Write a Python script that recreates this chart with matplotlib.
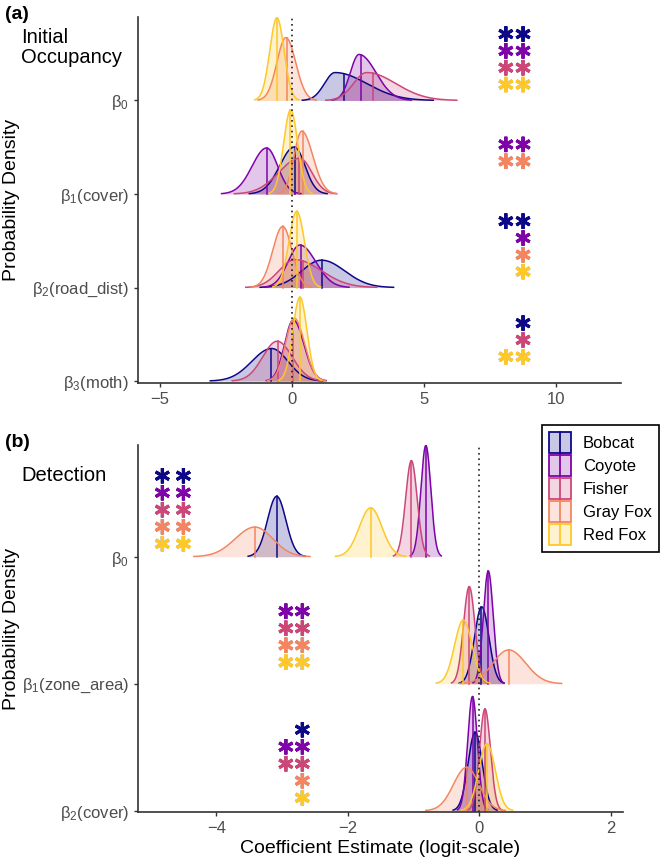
import numpy as np
import matplotlib
matplotlib.use('Agg')
import matplotlib.pyplot as plt
from matplotlib.patches import Patch, Rectangle
from matplotlib.lines import Line2D
from matplotlib.legend_handler import HandlerBase
from matplotlib.colors import to_rgba
import matplotlib.patheffects as pe

plt.rcParams['font.family'] = ['Liberation Sans', 'DejaVu Sans']
plt.rcParams['mathtext.fontset'] = 'custom'
plt.rcParams['mathtext.rm'] = 'Liberation Sans'

### Data ###
species = ['Bobcat', 'Coyote', 'Fisher', 'Gray Fox', 'Red Fox']
colors = ['#0D0887', '#7E03A8', '#CC4678', '#F48560', '#FDC828']

# (a) initial occupancy: rows = parameters, cols = species
occ_params = [r'β$\mathregular{_0}$', r'β$\mathregular{_1}$(cover)',
              r'β$\mathregular{_2}$(road_dist)', r'β$\mathregular{_3}$(moth)']
occ_mode = [[1.63, 2.54, 2.83, -0.23, -0.57],
            [0.09, -0.96, 0.30, 0.37, -0.05],
            [1.12, 0.30, 0.11, -0.35, 0.18],
            [-0.77, 0.05, -0.56, 0.09, 0.30]]
occ_sd_left = [[0.40, 0.33, 0.50, 0.34, 0.27],
               [0.55, 0.55, 0.80, 0.29, 0.265],
               [0.75, 0.45, 0.60, 0.38, 0.293],
               [0.75, 0.33, 0.55, 0.33, 0.266]]
occ_sd_right = [[1.20, 0.64, 1.10, 0.37, 0.27],
                [0.40, 0.42, 0.45, 0.42, 0.265],
                [0.88, 0.60, 1.00, 0.35, 0.293],
                [0.62, 0.40, 0.57, 0.38, 0.266]]
occ_median = [[1.97, 2.61, 3.06, -0.19, -0.57],
              [0.10, -0.96, 0.25, 0.41, -0.07],
              [1.12, 0.36, 0.40, -0.35, 0.18],
              [-0.80, 0.05, -0.53, 0.05, 0.30]]
occ_signif = [[2, 2, 2, 0, 2],
              [0, 2, 0, 2, 0],
              [2, 1, 0, 1, 1],
              [1, 0, 1, 0, 2]]

# (b) detection
det_params = [r'β$\mathregular{_0}$', r'β$\mathregular{_1}$(zone_area)',
              r'β$\mathregular{_2}$(cover)']
det_mode = [[-3.08, -0.81, -1.03, -3.41, -1.65],
            [0.04, 0.14, -0.15, 0.45, -0.24],
            [-0.06, -0.10, 0.09, -0.19, 0.12]]
det_sd_left = [[0.14, 0.076, 0.088, 0.30, 0.173],
               [0.11, 0.075, 0.087, 0.24, 0.133],
               [0.108, 0.074, 0.083, 0.20, 0.126]]
det_sd_right = [[0.14, 0.076, 0.088, 0.27, 0.173],
                [0.11, 0.075, 0.087, 0.26, 0.133],
                [0.108, 0.074, 0.083, 0.19, 0.126]]
det_median = [[-3.08, -0.81, -1.03, -3.41, -1.65],
              [0.03, 0.14, -0.15, 0.45, -0.24],
              [-0.06, -0.09, 0.09, -0.19, 0.12]]
det_signif = [[2, 2, 2, 2, 2],
              [0, 2, 2, 2, 2],
              [1, 2, 2, 1, 1]]


def split_normal(x, mode, sl, sr):
    s = np.where(x < mode, sl, sr)
    return 2 / (np.sqrt(2 * np.pi) * (sl + sr)) * np.exp(-0.5 * ((x - mode) / s) ** 2)


def draw_ridges(ax, params, mode, sdl, sdr, med, signif, ast_x, ast_off, ast_step):
    nrow = len(params)
    peak = max(2 / (np.sqrt(2 * np.pi) * (sdl[r][k] + sdr[r][k]))
               for r in range(nrow) for k in range(len(species)))
    hscale = 0.9 / peak
    for r in range(nrow):
        base = nrow - 1 - r
        for k, c in enumerate(colors):
            m, sl, sr = mode[r][k], sdl[r][k], sdr[r][k]
            x = np.linspace(m - 3.1 * sl, m + 3.1 * sr, 400)
            y = base + split_normal(x, m, sl, sr) * hscale
            ax.fill_between(x, base, y, color=c, alpha=0.22, lw=0)
            ax.plot(x, y, color=c, lw=1.1)
            md = med[r][k]
            ax.plot([md, md], [base, base + split_normal(md, m, sl, sr) * hscale],
                    color=c, lw=1.1)
        # significance asterisks
        rows = [k for k in range(len(species)) if signif[r][k] > 0]
        n = len(rows)
        for i, k in enumerate(rows):
            yy = base + ast_off + ((n - 1) / 2 - i) * ast_step
            xs = ast_x[r][-signif[r][k]:]
            ax.plot(xs, [yy] * len(xs), linestyle='None', marker=(6, 2, 0),
                    markersize=11, mew=2.0, color=colors[k], clip_on=False,
                    path_effects=[pe.withStroke(linewidth=2.6, foreground='#cfcfcf'),
                                  pe.Normal()])
    ax.axvline(0, color='#222222', ls=(0, (1, 2.2)), lw=1.2)
    ax.set_yticks(range(nrow))
    ax.set_yticklabels(params[::-1])
    for s in ['top', 'right']:
        ax.spines[s].set_visible(False)
    for s in ['left', 'bottom']:
        ax.spines[s].set_linewidth(1.2)
        ax.spines[s].set_color('#333333')
    ax.tick_params(colors='#333333', labelcolor='#4D4D4D', labelsize=12,
                   length=3, width=1.0)


class KeyHandler(HandlerBase):
    # filled box with a vertical median line, like the ridge keys
    def create_artists(self, legend, orig_handle, xdescent, ydescent,
                       width, height, fontsize, trans):
        c = orig_handle.get_edgecolor()
        box = Rectangle((-xdescent, -ydescent), width, height,
                        facecolor=(c[0], c[1], c[2], 0.22), edgecolor=c,
                        lw=1.3, transform=trans)
        xm = -xdescent + width / 2
        ln = Line2D([xm, xm], [-ydescent, -ydescent + height], color=c,
                    lw=1.3, transform=trans)
        return [box, ln]


fig = plt.figure(figsize=(6.61, 8.6), dpi=100)
ax1 = fig.add_axes([0.2088, 0.5547, 0.7307, 0.4253])
ax2 = fig.add_axes([0.2088, 0.0558, 0.7337, 0.4268])

draw_ridges(ax1, occ_params, occ_mode, occ_sd_left, occ_sd_right, occ_median,
            occ_signif, [[8.1, 8.75]] * 4, 0.44, 0.18)
ax1.set_xlim(-5.83, 12.46)
ax1.set_ylim(-0.02, 3.89)
ax1.set_xticks([-5, 0, 5, 10])
ax1.set_xticklabels(['−5', '0', '5', '10'])

draw_ridges(ax2, det_params, det_mode, det_sd_left, det_sd_right, det_median,
            det_signif, [[-4.82, -4.5], [-2.94, -2.69], [-2.94, -2.69]], 0.37, 0.134)
ax2.set_xlim(-5.19, 2.19)
ax2.set_ylim(-0.01, 2.88)
ax2.set_xticks([-4, -2, 0, 2])
ax2.set_xticklabels(['−4', '−2', '0', '2'])
ax2.set_xlabel('Coefficient Estimate (logit-scale)', fontsize=14, labelpad=3)

fig.text(0.007, 0.983, '(a)', fontsize=14, fontweight='bold', va='center')
fig.text(0.007, 0.485, '(b)', fontsize=14, fontweight='bold', va='center')
fig.text(0.032, 0.945, 'Initial\nOccupancy', fontsize=14.5, va='center',
         linespacing=1.05)
fig.text(0.032, 0.447, 'Detection', fontsize=14.5, va='center')
fig.text(0.018, 0.767, 'Probability Density', fontsize=14, rotation=90,
         va='center', ha='center')
fig.text(0.018, 0.269, 'Probability Density', fontsize=14, rotation=90,
         va='center', ha='center')

handles = [Patch(facecolor=to_rgba(c, 0.22), edgecolor=c) for c in colors]
leg = fig.legend(handles, species, loc='upper right', bbox_to_anchor=(0.997, 0.506),
                 handler_map={Patch: KeyHandler()}, fontsize=12,
                 frameon=True, fancybox=False, edgecolor='black', framealpha=1,
                 handlelength=1.3, handleheight=1.55, labelspacing=0.12,
                 borderpad=0.45, borderaxespad=0, handletextpad=0.7)
leg.get_frame().set_linewidth(1.2)

fig.savefig('out.png', dpi=100)
